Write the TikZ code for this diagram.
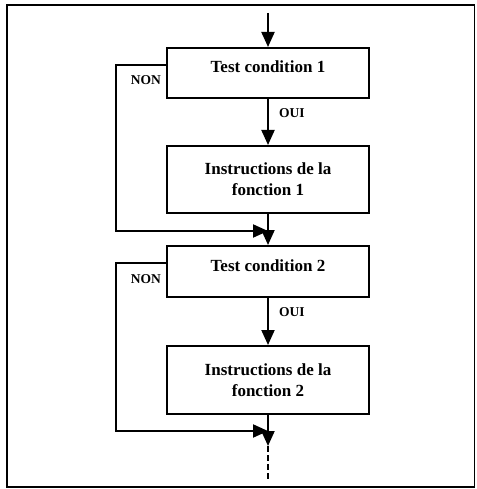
\documentclass[tikz,border=0pt]{standalone}
\usepackage{fontspec}
\setmainfont{Liberation Serif}
\usetikzlibrary{arrows.meta}
\begin{document}
\begin{tikzpicture}[x=1pt,y=1pt,
  box/.style={draw, line width=2pt, minimum width=202pt, inner sep=0pt, align=center,
    font=\bfseries\fontsize{17}{21}\selectfont},
  testbox/.style={box, text height=25pt, text depth=25pt},
  instbox/.style={box, minimum height=67pt},
  flow/.style={line width=2pt, -{Triangle[width=13pt,length=15pt]}},
  lbl/.style={font=\bfseries\fontsize{13.5}{15}\selectfont, inner sep=0pt}]
\useasboundingbox (0,0) rectangle (476,-489);
\draw[line width=1.3pt] (7,-5) rectangle (474.5,-487);

\node[testbox] (b1) at (268,-73) {Test condition 1};
\node[instbox] (b2) at (268,-179.5) {Instructions de la\\fonction 1};
\node[testbox, text height=25.5pt, text depth=25.5pt] (b3) at (268,-271.5) {Test condition 2};
\node[instbox, minimum height=68pt] (b4) at (268,-380) {Instructions de la\\fonction 2};

\coordinate (s) at (268,-13);
\coordinate (n1) at (167,-65);
\coordinate (c1) at (116,-65);
\coordinate (d1) at (116,-231);
\coordinate (m1) at (268,-231);
\coordinate (n2) at (167,-263);
\coordinate (c2) at (116,-263);
\coordinate (d2) at (116,-431);
\coordinate (m2) at (268,-431);
\coordinate (e2) at (268,-446);
\coordinate (end) at (268,-480);

\draw[flow] (s) -- (b1.north);
\draw[flow] (b1.south) -- node[lbl, right=10pt, pos=0.3] (o1) {OUI} (b2.north);
\draw[flow] (b2.south) -- (b3.north);
\draw[flow] (b3.south) -- node[lbl, right=10pt, pos=0.3] (o2) {OUI} (b4.north);
\draw[flow] (b4.south) -- (e2);
\draw[line width=2pt, dash pattern=on 6pt off 3pt] (e2) -- (end);

\draw[flow] (n1) -- (c1) -- (d1) -- (m1);
\draw[flow] (n2) -- (c2) -- (d2) -- (m2);

\node[lbl, anchor=east] (non1) at (161,-80) {NON};
\node[lbl, anchor=east] (non2) at (161,-279) {NON};
\end{tikzpicture}
\end{document}
